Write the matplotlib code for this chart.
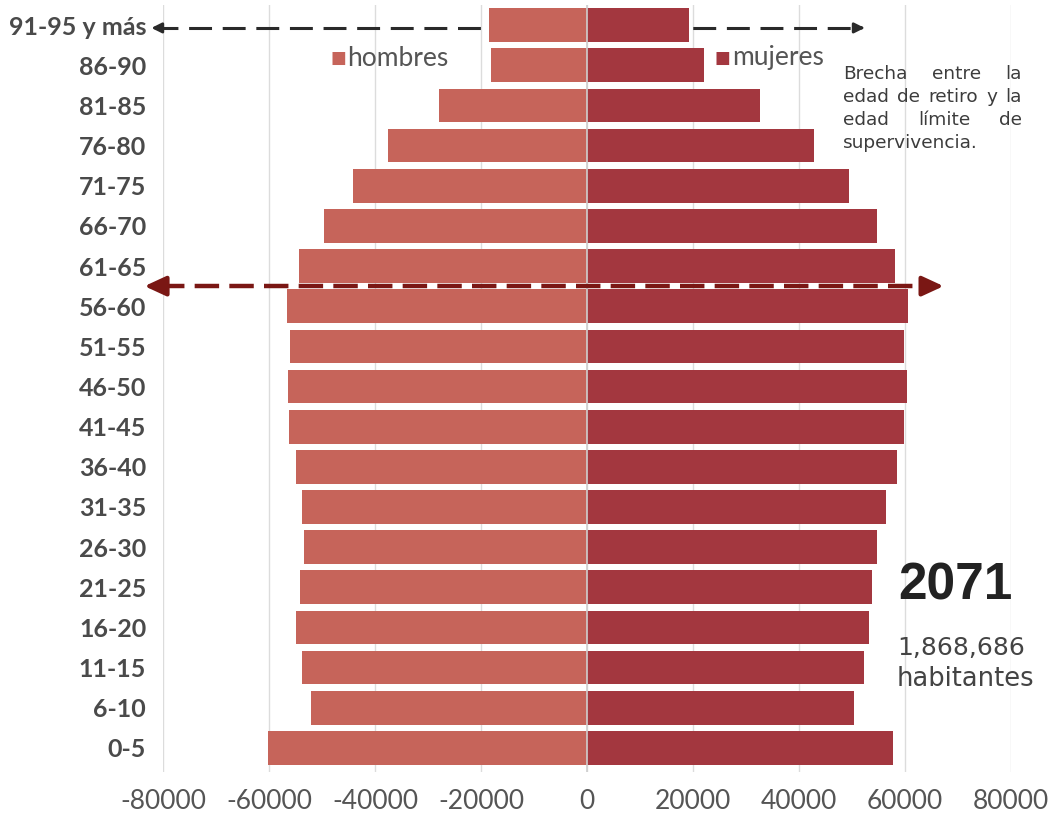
import matplotlib.pyplot as plt
import numpy as np

plt.rcParams['font.family'] = ['Lato', 'DejaVu Sans']

grupos = ['0-5', '6-10', '11-15', '16-20', '21-25', '26-30', '31-35', '36-40',
          '41-45', '46-50', '51-55', '56-60', '61-65', '66-70', '71-75',
          '76-80', '81-85', '86-90', '91-95 y más']
hombres = [60200, 52100, 53800, 54900, 54200, 53400, 53800, 54900, 56200,
           56400, 56000, 56600, 54300, 49600, 44200, 37500, 27900, 18100, 18500]
mujeres = [57700, 50400, 52300, 53200, 53800, 54700, 56400, 58500, 59800,
           60400, 59800, 60600, 58100, 54700, 49400, 42800, 32600, 22100, 19200]
xticks = [-80000, -60000, -40000, -20000, 0, 20000, 40000, 60000, 80000]

c_h = '#C6645A'
c_m = '#A3373F'

fig = plt.figure(figsize=(10.51, 8.13), dpi=100)
ax = fig.add_axes([0.155, 0.0504, 0.807, 0.9434])

y = np.arange(len(grupos))
ax.barh(y, -np.array(hombres), height=0.84, color=c_h, zorder=3)
ax.barh(y, mujeres, height=0.84, color=c_m, zorder=3)
ax.axvline(0, color='#cfcfcf', lw=1.2, zorder=4)

ax.set_xlim(-80000, 80000)
ax.set_ylim(-0.6, 18.5)
ax.set_xticks(xticks)
ax.set_xticklabels([str(v) for v in xticks], fontsize=19, color='#555555')
ax.set_yticks(y)
ax.set_yticklabels(grupos, fontsize=18, fontweight='bold', color='#4a4a4a')
ax.tick_params(length=0)
ax.tick_params(axis='x', pad=12)
ax.tick_params(axis='y', pad=12)
ax.grid(axis='x', color='#dcdcdc', lw=1, zorder=0)
ax.set_axisbelow(True)
for s in ax.spines.values():
    s.set_visible(False)

# flecha negra (detras de las barras)
yb = 17.93
ax.plot([-81500, 51500], [yb, yb], color='#2a2a2a', lw=2.2,
        dashes=(7.5, 3.5), zorder=1, clip_on=False)
for x0, x1 in [(-80000, -82700), (51000, 52900)]:
    ax.annotate('', xy=(x1, yb), xytext=(x0, yb),
                arrowprops=dict(arrowstyle='-|>,head_length=0.6,head_width=0.3',
                                color='#2a2a2a', lw=2), zorder=1,
                annotation_clip=False)

# flecha roja (delante)
yr = 11.5
ax.plot([-80500, 64000], [yr, yr], color='#7a1714', lw=3.2,
        dashes=(5.5, 2.3), zorder=5, clip_on=False)
for x0, x1 in [(-79000, -84000), (63000, 67800)]:
    ax.annotate('', xy=(x1, yr), xytext=(x0, yr),
                arrowprops=dict(arrowstyle='-|>,head_length=1.3,head_width=0.6',
                                color='#7a1714', lw=3), zorder=5,
                annotation_clip=False)

# leyenda
fig.text(330 / 1051, 1 - 58 / 813, '■', color=c_h, fontsize=12,
         family='DejaVu Sans', va='center')
fig.text(347 / 1051, 1 - 58 / 813, 'hombres', color='#555555', fontsize=19,
         va='center')
fig.text(715 / 1051, 1 - 58 / 813, '■', color=c_m, fontsize=12,
         family='DejaVu Sans', va='center')
fig.text(732 / 1051, 1 - 58 / 813, 'mujeres', color='#555555', fontsize=19,
         va='center')

# nota justificada
lineas = ['Brecha entre la', 'edad de retiro y la', 'edad límite de',
          'supervivencia.']
izq, der = 843, 1022
renderer = fig.canvas.get_renderer()
for i, linea in enumerate(lineas):
    yy = 1 - (74 + i * 23) / 813
    kw = dict(fontsize=13.3, color='#3c3c3c', family='DejaVu Sans', va='center')
    palabras = linea.split()
    if i == len(lineas) - 1:
        fig.text(izq / 1051, yy, linea, ha='left', **kw)
        continue
    textos = [fig.text(0, yy, p, ha='left', **kw) for p in palabras]
    anchos = [t.get_window_extent(renderer).width for t in textos]
    hueco = (der - izq - sum(anchos)) / (len(palabras) - 1)
    x = izq
    for t, w in zip(textos, anchos):
        t.set_x(x / 1051)
        x += w + hueco

fig.text(898 / 1051, 1 - 586 / 813, '2071', fontsize=37, fontweight='bold',
         color='#222222', va='center', family='Liberation Sans')
fig.text(897 / 1051, 1 - 648 / 813, '1,868,686', fontsize=18,
         color='#444444', va='center', family='DejaVu Sans')
fig.text(897 / 1051, 1 - 679 / 813, 'habitantes', fontsize=18.5,
         color='#444444', va='center', family='DejaVu Sans')

fig.savefig('out.png', dpi=100, facecolor='white')
